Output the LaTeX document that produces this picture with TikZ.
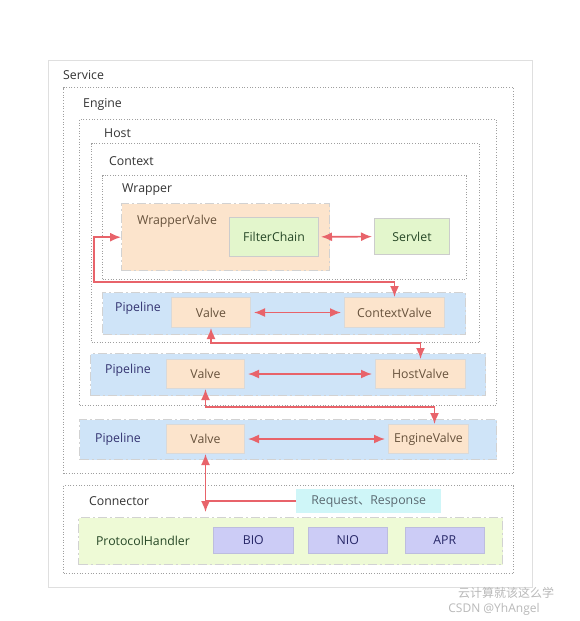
\documentclass[tikz,border=0pt]{standalone}
\usepackage{fontspec}
\setmainfont{Open Sans}
\newfontfamily\cjk{Noto Sans CJK SC}
\usetikzlibrary{arrows.meta}

\definecolor{ink}{HTML}{333333}
\definecolor{peach}{HTML}{FCE4CC}
\definecolor{pipeblue}{HTML}{CFE4F8}
\definecolor{leaf}{HTML}{E3F6CC}
\definecolor{lime}{HTML}{EEFAD6}
\definecolor{lavender}{HTML}{CCCCF6}
\definecolor{aqua}{HTML}{CFF6F8}
\definecolor{linkred}{HTML}{E8636A}

\tikzset{
	size/.style 2 args={minimum width=#1pt, minimum height=#2pt},
	outer/.style={draw=gray!25, line width=1.4pt, fill=white, anchor=north west, inner sep=0},
	frame/.style={draw=gray!75, dash pattern=on 1pt off 1.7pt, line width=1pt, anchor=north west, inner sep=0},
	pipe/.style={fill=pipeblue, draw=gray!35, dash pattern=on 9pt off 3pt on 2pt off 3pt, line width=1.4pt, anchor=north west, inner sep=0},
	valvebox/.style={fill=peach, draw=gray!30, line width=1pt, anchor=north west, inner sep=0, text=brown!40!black!85},
	greenbox/.style={fill=leaf, draw=gray!40, line width=1pt, anchor=north west, inner sep=0, text=green!15!black!85},
	iobox/.style={fill=lavender, draw=lavender!80!gray, line width=0.6pt, anchor=north west, inner sep=0, text=blue!30!black!85},
	boxtitle/.style={anchor=west, inner sep=0},
	pipetitle/.style={inner sep=0, text=blue!30!black!80},
	flow/.style={draw=linkred, line width=1.6pt, {Latex[length=11pt,width=9pt]}-{Latex[length=11pt,width=9pt]}},
	watermark/.style={inner sep=0, text=gray!55, font=\cjk\fontsize{12}{14}\selectfont},
}

\begin{document}
\begin{tikzpicture}[x=1pt, y=-1pt, font=\fontsize{12.3}{14}\selectfont, text=ink]
	\useasboundingbox[fill=white] (0,0) rectangle (580,621);

	% nested containers
	\node[outer, size={484}{527}] (service) at (48,60) {};
	\node[boxtitle] (servicename) at (63,75) {Service};
	\node[frame, size={450}{386}] (engine) at (63,87) {};
	\node[boxtitle] (enginename) at (83,104) {Engine};
	\node[frame, size={417}{286}] (host) at (79,119) {};
	\node[boxtitle] (hostname) at (104,133) {Host};
	\node[frame, size={388}{199}] (context) at (91,143) {};
	\node[boxtitle] (contextname) at (109,161) {Context};
	\node[frame, size={364}{104}] (wrapper) at (102,175) {};
	\node[boxtitle] (wrappername) at (122,190) {Wrapper};

	% wrapper
	\node[pipe, fill=peach, size={208}{67}] (wrappervalve) at (121,203) {};
	\node[inner sep=0, text=brown!40!black!85] (wrappervalvename) at (177,221) {WrapperValve};
	\node[greenbox, size={89}{39}] (filterchain) at (229,217) {FilterChain};
	\node[greenbox, size={75}{36}] (servlet) at (374,218) {Servlet};

	% pipelines
	\node[pipe, size={363}{42}] (contextpipe) at (102,292) {};
	\node[pipetitle] (contextpipename) at (138,308) {Pipeline};
	\node[valvebox, size={79}{30}] (contextbasic) at (171,297) {Valve};
	\node[valvebox, size={100}{30}] (contextvalve) at (344,297) {ContextValve};

	\node[pipe, size={395}{42}] (hostpipe) at (90,353) {};
	\node[pipetitle] (hostpipename) at (128,370) {Pipeline};
	\node[valvebox, size={78}{29}] (hostbasic) at (166,359) {Valve};
	\node[valvebox, size={90}{29}] (hostvalve) at (375,359) {HostValve};

	\node[pipe, size={417}{40}] (enginepipe) at (79,419) {};
	\node[pipetitle] (enginepipename) at (118,439) {Pipeline};
	\node[valvebox, size={78}{29}] (enginebasic) at (166,424) {Valve};
	\node[valvebox, size={80}{29}] (enginevalve) at (388,424) {EngineValve};

	% connector
	\node[frame, size={450}{88}] (connector) at (63,485) {};
	\node[boxtitle] (connectorname) at (89,501) {Connector};
	\node[anchor=north west, inner sep=0, fill=aqua, size={145}{24}, text=cyan!25!black!85] (request) at (296,489) {Request{\cjk 、}Response};
	\node[pipe, fill=lime, size={424}{47}] (protocol) at (78,517) {};
	\node[inner sep=0, text=green!15!black!85] (protocolname) at (143,541) {ProtocolHandler};
	\node[iobox, size={80}{26}] (bio) at (213,527) {BIO};
	\node[iobox, size={79}{26}] (nio) at (308,527) {NIO};
	\node[iobox, size={79}{26}] (apr) at (405,527) {APR};

	% links
	\draw[flow, shorten <=2pt, shorten >=2pt] (filterchain) -- (servlet);
	\draw[flow, shorten <=3pt, shorten >=3pt] (contextbasic) -- (contextvalve);
	\draw[flow, shorten <=3pt, shorten >=3pt] (hostbasic) -- (hostvalve);
	\draw[flow, shorten <=3pt, shorten >=3pt] (enginebasic) -- (enginevalve);

	\draw[flow] (wrappervalve.west) -- ++(-27,0) |- ([yshift=15pt]contextvalve.north) -- (contextvalve.north);
	\draw[flow] (contextbasic.south) |- ([yshift=16pt]hostvalve.north) -- (hostvalve.north);
	\draw[flow] (hostbasic.south) |- ([xshift=6pt,yshift=17pt]enginevalve.north) -- ([xshift=6pt]enginevalve.north);
	\coordinate (entry) at ([yshift=5pt]protocol.north -| enginebasic.south);
	\draw[flow] (enginebasic.south) -- (entry);
	\draw[draw=linkred, line width=1.6pt] (request.west) -- (request.west -| entry);

	\node[watermark] (wm1) at (506,593) {云计算就该这么学};
	\node[watermark, font=\fontsize{12}{14}\selectfont] (wm2) at (494,609) {CSDN @YhAngel};
\end{tikzpicture}
\end{document}
